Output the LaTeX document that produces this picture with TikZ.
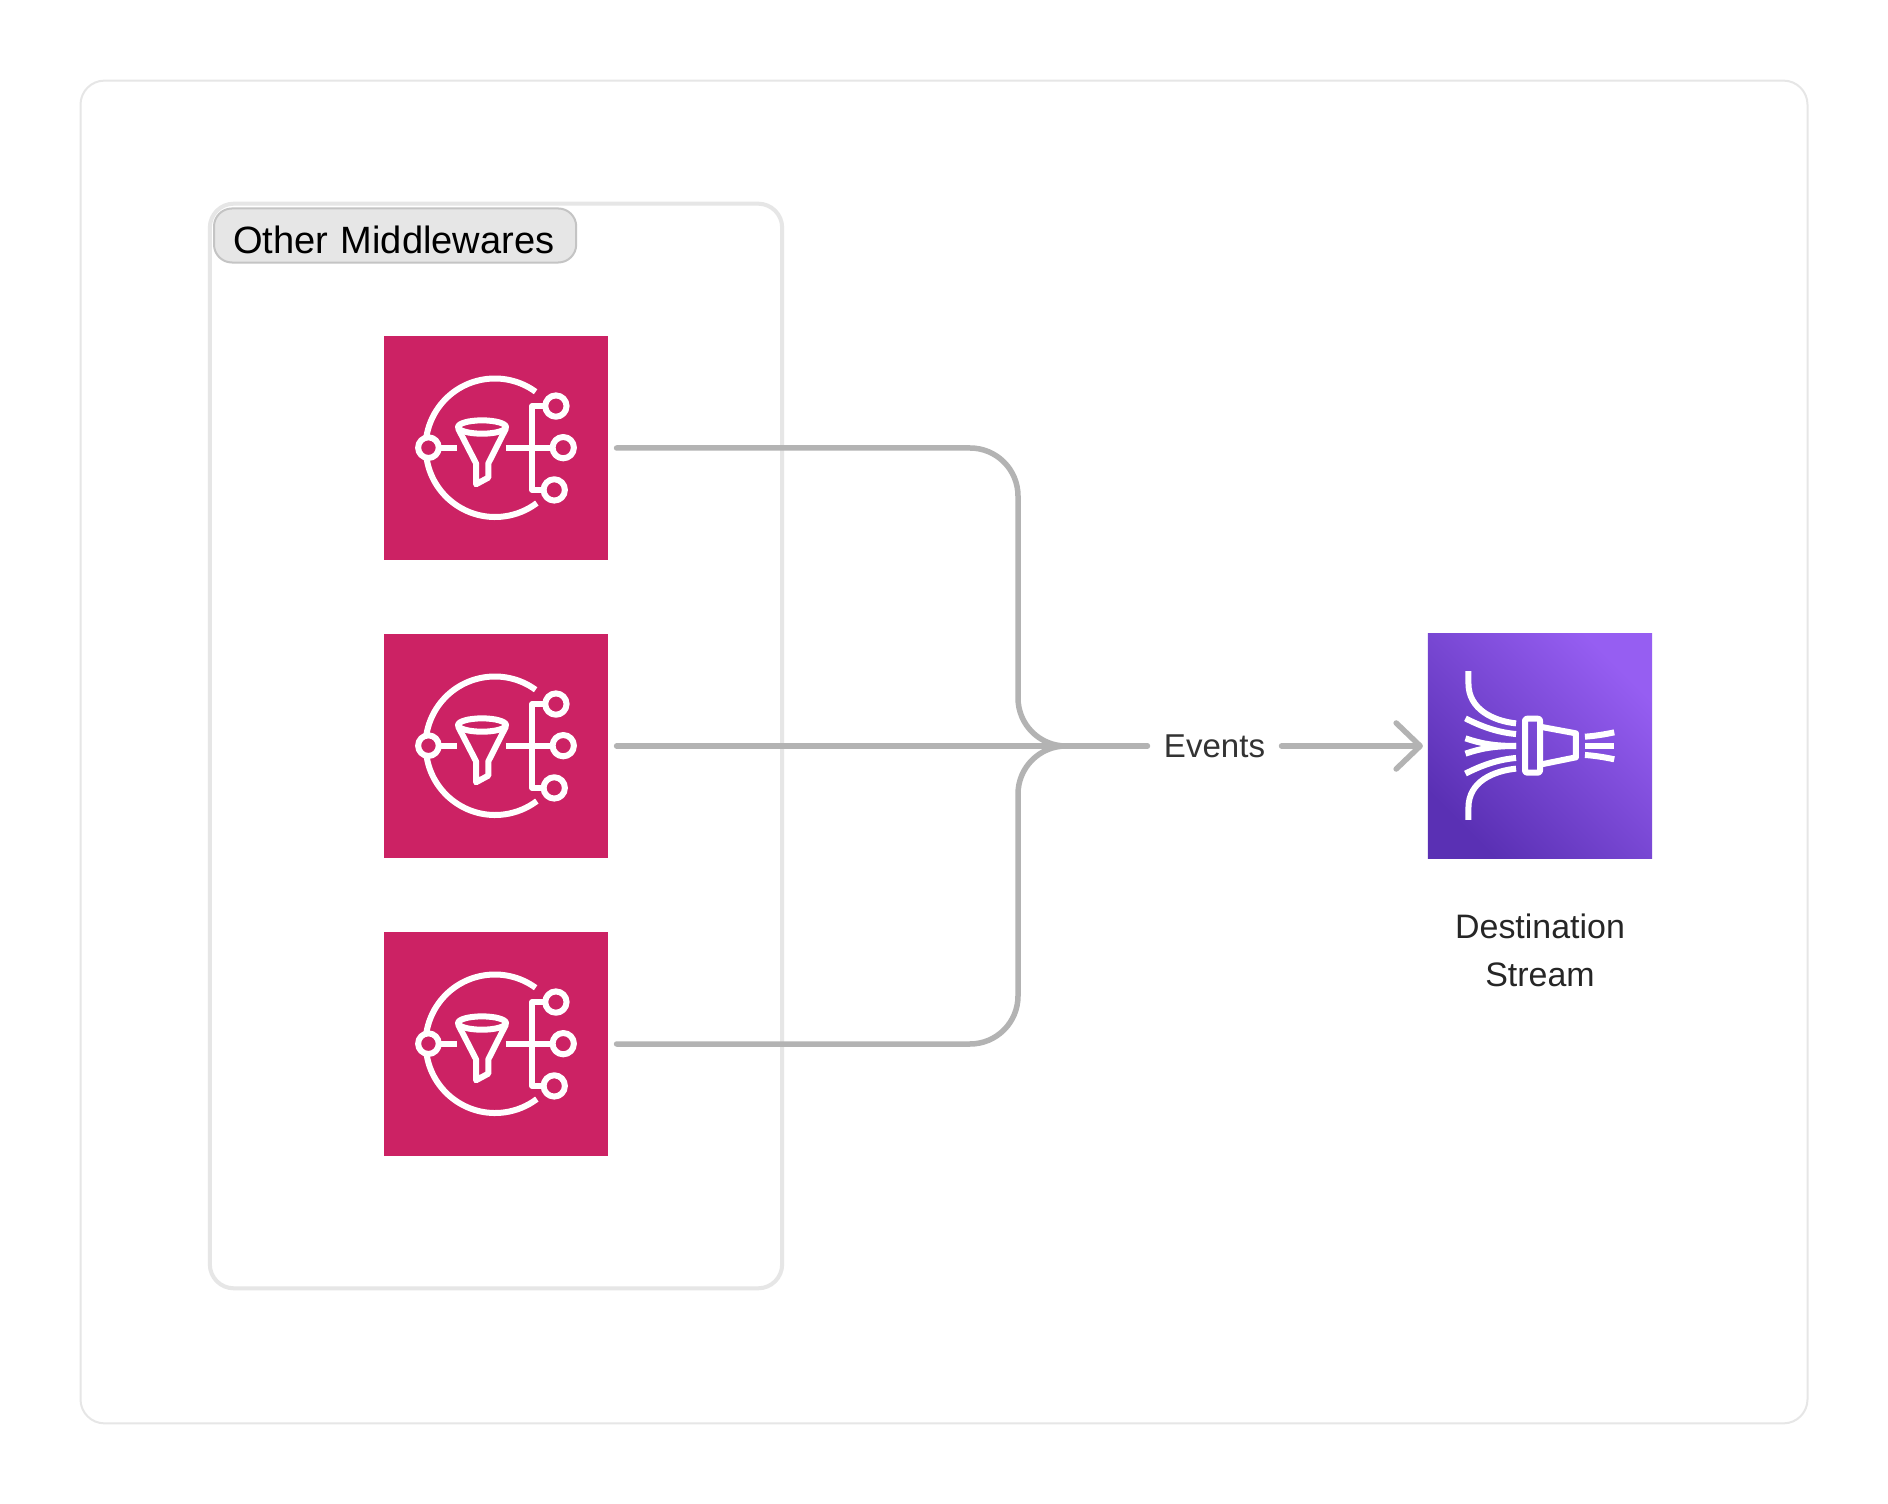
\documentclass[tikz,border=0pt]{standalone}
\usepackage{fontspec}
\setmainfont{Liberation Sans}
\usetikzlibrary{arrows.meta}
\definecolor{framegray}{HTML}{E6E6E6}
\definecolor{linegray}{HTML}{B3B3B3}
\definecolor{topicpink}{HTML}{CC2264}
\definecolor{streamdark}{HTML}{5A30B4}
\definecolor{streamlight}{HTML}{965EF2}
\tikzset{>={Straight Barb[length=0.24cm,width=0.46cm,round]}}
\tikzset{
  frame/.style={draw=framegray, inner sep=0, outer sep=0, fill=white},
  tile/.style={inner sep=0, outer sep=0, minimum size=2.24cm},
  flow/.style={draw=linegray, line width=0.055cm, line cap=round, line join=round},
  glyph/.style={draw=white, line width=0.06cm, line join=round},
  pics/topicglyph/.style={code={
    \begin{scope}[x=0.003333cm, y=-0.003333cm]
      \draw[glyph] (119,-169) arc[start angle=54, end angle=172, radius=0.693cm];
      \draw[glyph] (-209,28) arc[start angle=188, end angle=307, radius=0.693cm];
      \draw[glyph] (-203,-1) circle (31);
      \draw[glyph] (-172,-1) -- (-116,-1);
      \draw[glyph] (-42,-63) ellipse (72 and 20);
      \draw[glyph] (-114,-59) -- (-60,46) -- (-60,109) -- (-23,89) -- (-23,46) -- (30,-59);
      \draw[glyph] (30,-1) -- (170,-1);
      \draw[glyph] (147,-126) -- (109,-126) -- (109,126) -- (142,126);
      \draw[glyph] (180,-126) circle (32);
      \draw[glyph] (202,-1) circle (32);
      \draw[glyph] (175,126) circle (32);
    \end{scope}
  }},
  pics/streamglyph/.style={code={
    \begin{scope}[x=0.003333cm, y=-0.003333cm]
      \draw[glyph] (-215,-225) -- (-215,-188) .. controls (-215,-110) and (-140,-75) .. (-72,-68);
      \draw[glyph] (-224,-83) .. controls (-170,-55) and (-120,-40) .. (-72,-36);
      \draw[glyph] (-224,-23) .. controls (-180,-8) and (-140,0) .. (-72,0);
      \draw[glyph] (-224,23) .. controls (-180,8) and (-140,0) .. (-72,0);
      \draw[glyph] (-224,83) .. controls (-170,55) and (-120,40) .. (-72,36);
      \draw[glyph] (-215,222) -- (-215,185) .. controls (-215,107) and (-140,75) .. (-72,68);
      \draw[glyph, rounded corners=0.02cm] (-45,-82) rectangle (0,80);
      \draw[glyph] (0,-58) -- (108,-38) -- (108,34) -- (0,56);
      \draw[glyph] (135,-28) .. controls (165,-30) and (195,-35) .. (223,-41);
      \draw[glyph] (135,0) -- (223,0);
      \draw[glyph] (135,27) .. controls (165,29) and (195,34) .. (223,40);
    \end{scope}
  }}
}

\begin{document}
\begin{tikzpicture}[x=0.01cm, y=-0.01cm]
\useasboundingbox (0,0) rectangle (1888,1504);

\node[frame, line width=0.02cm, rounded corners=0.24cm, minimum width=17.26cm, minimum height=13.42cm] (outer) at (944,752) {};
\node[frame, line width=0.04cm, rounded corners=0.24cm, minimum width=5.72cm, minimum height=10.84cm] (group) at (496,746) {};
\node[anchor=west, draw=black!23, fill=framegray, line width=0.02cm, rounded corners=0.18cm, inner xsep=0.19cm, inner ysep=0, outer sep=0, minimum height=0.54cm, text width=3.24cm, text height=0.35cm, text depth=0cm, font=\fontsize{10.82}{13}\selectfont] (grouplabel) at (214,235.5) {Other Middlewares};

% the three topics
\node[tile, fill=topicpink] (topicA) at (496,448) {};
\node[tile, fill=topicpink] (topicB) at (496,746) {};
\node[tile, fill=topicpink] (topicC) at (496,1044) {};
\pic at (topicA.center) {topicglyph};
\pic at (topicB.center) {topicglyph};
\pic at (topicC.center) {topicglyph};

\node[tile, left color=streamdark, right color=streamlight, shading angle=135] (stream) at (1540,746) {};
\pic at (stream.center) {streamglyph};
\node[align=center, text=black!85, font=\fontsize{9.65}{13.6}\selectfont] (streamlabel) at (1540,950) {Destination\\Stream};

\node[inner sep=0, outer sep=0, minimum width=1.34cm, minimum height=0.4cm, text=black!80, font=\fontsize{9.4}{12}\selectfont] (events) at (1214.5,746) {Events};

\coordinate (bend) at (1018,746);
\coordinate (merge) at (1066,746);

\draw[flow, rounded corners=0.48cm, shorten <=0.085cm] (topicA.east) -| (bend) -- (merge);
\draw[flow, rounded corners=0.48cm, shorten <=0.085cm] (topicC.east) -| (bend) -- (merge);
\draw[flow, shorten <=0.085cm] (topicB.east) -- (events.west);
\draw[flow, ->, shorten >=0.05cm] (events.east) -- (stream.west);
\end{tikzpicture}
\end{document}
